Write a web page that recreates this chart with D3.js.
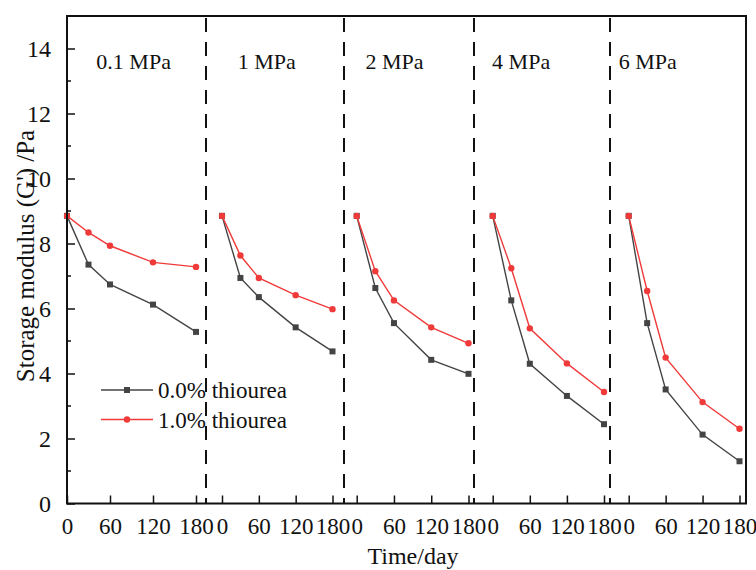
<!DOCTYPE html>
<html><head><meta charset="utf-8">
<script src="https://cdn.jsdelivr.net/npm/d3@7"></script>
<style>
html,body{margin:0;padding:0;background:#fff;}
text{font-family:"Liberation Serif","Times New Roman",serif;fill:#111;}
</style></head>
<body>
<svg id="chart" width="756" height="570"></svg>
<script>
// ---- data ----
const panelLabels = ["0.1 MPa", "1 MPa", "2 MPa", "4 MPa", "6 MPa"];
const days = [0, 30, 60, 120, 180];
const series0Label = "0.0% thiourea";
const series1Label = "1.0% thiourea";
const thiourea00 = [
  [8.85, 7.35, 6.74, 6.12, 5.28],
  [8.85, 6.94, 6.35, 5.42, 4.68],
  [8.85, 6.63, 5.55, 4.42, 3.99],
  [8.85, 6.25, 4.30, 3.31, 2.44],
  [8.85, 5.55, 3.51, 2.12, 1.30]
];
const thiourea10 = [
  [8.85, 8.34, 7.93, 7.42, 7.28],
  [8.85, 7.63, 6.94, 6.41, 5.98],
  [8.85, 7.15, 6.25, 5.42, 4.93],
  [8.85, 7.24, 5.39, 4.31, 3.43],
  [8.85, 6.54, 4.49, 3.12, 2.30]
];
const xTicks = [0, 60, 120, 180];
const yTicks = [0, 2, 4, 6, 8, 10, 12, 14];
const yMinor = [1, 3, 5, 7, 9, 11, 13];
const labelDay = [93, 73, 61, 46, 31];

// ---- layout ----
const bounds = [67, 206, 344, 474, 610, 746];
const zeroPx = [67, 222, 356.7, 492.7, 628.7];
const endPx = [196, 332.5, 468.5, 604, 739.5];
const plotTop = 16, plotBottom = 503.5;
const colBlack = "#444444", colRed = "#f03a3a";

const svg = d3.select("#chart");
const y = d3.scaleLinear().domain([0, 15]).range([plotBottom, plotTop]);

// y axis
const yAxis = d3.axisLeft(y).tickValues(yTicks).tickSizeInner(-8).tickSizeOuter(0).tickPadding(16);
const gy = svg.append("g").attr("transform", `translate(${bounds[0]},0)`).call(yAxis);
gy.selectAll("text").style("font-size", "24px").attr("dy", "0.34em");
gy.selectAll("line").attr("stroke", "#111").attr("stroke-width", 1.5);
gy.select(".domain").remove();
svg.append("g").selectAll("line").data(yMinor).join("line")
  .attr("x1", bounds[0]).attr("x2", bounds[0] + 4)
  .attr("y1", d => y(d)).attr("y2", d => y(d))
  .attr("stroke", "#111").attr("stroke-width", 1.5);

const line = (xs) => d3.line().x((d, i) => xs(days[i])).y(d => y(d));

panelLabels.forEach((lab, p) => {
  const x = d3.scaleLinear().domain([0, 180]).range([zeroPx[p], endPx[p]]);
  const xAxis = d3.axisBottom(x).tickValues(xTicks).tickSizeInner(-8).tickSizeOuter(0).tickPadding(14);
  const gx = svg.append("g").attr("transform", `translate(0,${plotBottom})`).call(xAxis);
  gx.select(".domain").remove();
  gx.selectAll("text").style("font-size", "23px");
  gx.selectAll("line").attr("stroke", "#111").attr("stroke-width", 1.5);

  // panel label
  svg.append("text").attr("x", x(labelDay[p])).attr("y", 69)
    .attr("text-anchor", "middle").style("font-size", "22px").text(lab);

  // series
  svg.append("path").datum(thiourea00[p]).attr("d", line(x))
    .attr("fill", "none").attr("stroke", colBlack).attr("stroke-width", 1.4);
  svg.append("g").selectAll("rect").data(thiourea00[p]).join("rect")
    .attr("x", (d, i) => x(days[i]) - 3).attr("y", d => y(d) - 3)
    .attr("width", 6).attr("height", 6).attr("fill", colBlack);
  svg.append("path").datum(thiourea10[p]).attr("d", line(x))
    .attr("fill", "none").attr("stroke", colRed).attr("stroke-width", 1.4);
  svg.append("g").selectAll("circle").data(thiourea10[p]).join("circle")
    .attr("cx", (d, i) => x(days[i])).attr("cy", d => y(d)).attr("r", 3.2)
    .attr("fill", colRed);
});

// dashed separators
svg.append("g").selectAll("line").data(bounds.slice(1, 5)).join("line")
  .attr("x1", d => d).attr("x2", d => d).attr("y1", plotTop + 2).attr("y2", plotBottom)
  .attr("stroke", "#111").attr("stroke-width", 2).attr("stroke-dasharray", "14,10");

// frame
svg.append("rect").attr("x", bounds[0]).attr("y", plotTop)
  .attr("width", bounds[5] - bounds[0]).attr("height", plotBottom - plotTop)
  .attr("fill", "none").attr("stroke", "#111").attr("stroke-width", 2);

// axis titles
svg.append("text").attr("x", 413).attr("y", 564).attr("text-anchor", "middle")
  .style("font-size", "24px").text("Time/day");
svg.append("text").attr("transform", "translate(34,256) rotate(-90)")
  .attr("text-anchor", "middle").style("font-size", "25px").text("Storage modulus (G') /Pa");

// legend
const legend = [
  {label: series0Label, color: colBlack, shape: "rect", yy: 390},
  {label: series1Label, color: colRed, shape: "circle", yy: 419.5}
];
legend.forEach(l => {
  svg.append("line").attr("x1", 101).attr("x2", 153).attr("y1", l.yy).attr("y2", l.yy)
    .attr("stroke", l.color).attr("stroke-width", 1.4);
  if (l.shape === "rect") {
    svg.append("rect").attr("x", 124).attr("y", l.yy - 3).attr("width", 6).attr("height", 6).attr("fill", l.color);
  } else {
    svg.append("circle").attr("cx", 127).attr("cy", l.yy).attr("r", 3.2).attr("fill", l.color);
  }
  svg.append("text").attr("x", 158).attr("y", l.yy).attr("dy", "0.35em")
    .style("font-size", "23px").text(l.label);
});
</script>
</body></html>
